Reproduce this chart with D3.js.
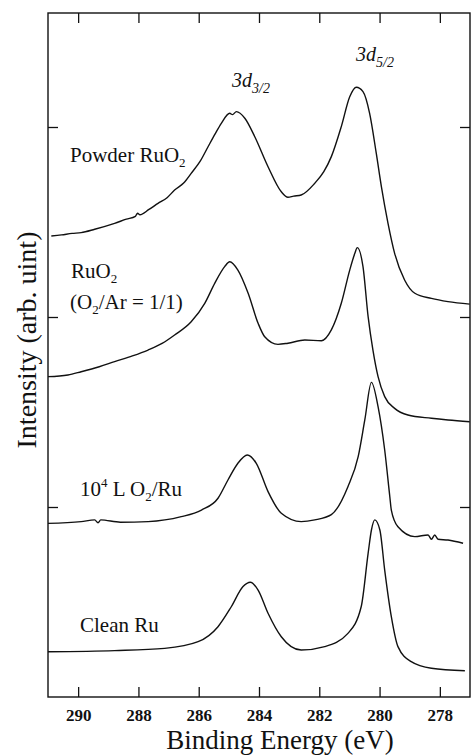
<!DOCTYPE html>
<html lang="en">
<head>
    <meta charset="UTF-8">
    <title>Ru 3d XPS spectra</title>
    <script src="https://d3js.org/d3.v7.min.js"></script>
    <style>
        body { margin: 0; background: #fff; }
        text { font-family: "Liberation Serif", "Times New Roman", serif; fill: #111; }
    </style>
</head>
<body>
    <svg id="chart" width="472" height="755"></svg>
    <script>
        // Spectra: [binding energy (eV), intensity (arb.)]
        var powderRuO2 = [
            [290.89, 2.426], [290.55, 2.432], [290.20, 2.440], [289.90, 2.444], [289.45, 2.462],
            [288.79, 2.493], [288.40, 2.515], [288.10, 2.530], [288.03, 2.546], [287.95, 2.538],
            [287.65, 2.566], [287.35, 2.598], [287.05, 2.628], [286.80, 2.668], [286.50, 2.705],
            [286.25, 2.756], [285.95, 2.820], [285.69, 2.896], [285.45, 2.965], [285.25, 3.019],
            [284.97, 3.072], [284.88, 3.065], [284.75, 3.081], [284.47, 3.046], [284.14, 2.949],
            [283.70, 2.791], [283.26, 2.659], [283.04, 2.630], [282.85, 2.636], [282.60, 2.642],
            [282.15, 2.704], [281.85, 2.765], [281.60, 2.844], [281.27, 3.002], [280.99, 3.159],
            [280.77, 3.209], [280.55, 3.186], [280.33, 3.072], [280.11, 2.862], [279.94, 2.686],
            [279.72, 2.493], [279.50, 2.335], [279.17, 2.195], [278.83, 2.125], [278.28, 2.098],
            [277.73, 2.081], [277.01, 2.068]
        ];
        var ruO2Film = [
            [291.00, 1.686], [290.34, 1.695], [289.90, 1.712], [289.30, 1.738], [288.79, 1.765],
            [288.20, 1.795], [287.68, 1.826], [287.20, 1.862], [286.80, 1.905], [286.25, 1.975],
            [285.80, 2.072], [285.47, 2.177], [285.14, 2.265], [284.97, 2.291], [284.70, 2.247],
            [284.36, 2.125], [284.03, 1.967], [283.81, 1.896], [283.37, 1.856], [283.04, 1.862],
            [282.48, 1.879], [281.93, 1.875], [281.60, 1.932], [281.27, 2.072], [280.99, 2.247],
            [280.82, 2.335], [280.74, 2.365], [280.55, 2.265], [280.38, 2.002], [280.22, 1.826],
            [280.05, 1.686], [279.83, 1.581], [279.50, 1.519], [279.06, 1.484], [278.28, 1.467],
            [277.73, 1.458], [277.01, 1.449]
        ];
        var oxygenDosedRu = [
            [291.00, 0.914], [289.90, 0.923], [289.45, 0.932], [289.34, 0.917], [289.25, 0.932],
            [288.60, 0.920], [287.68, 0.923], [286.58, 0.949], [285.91, 0.984], [285.36, 1.046],
            [285.03, 1.142], [284.70, 1.230], [284.39, 1.274], [284.09, 1.230], [283.70, 1.081],
            [283.26, 0.967], [282.60, 0.923], [282.15, 0.932], [281.60, 0.960], [281.05, 1.107],
            [280.71, 1.265], [280.49, 1.458], [280.27, 1.656], [280.05, 1.528], [279.83, 1.300],
            [279.66, 1.054], [279.61, 0.984], [279.39, 0.896], [278.83, 0.844], [278.39, 0.853],
            [278.28, 0.830], [278.17, 0.853], [278.06, 0.830], [277.73, 0.826], [277.23, 0.809]
        ];
        var cleanRu = [
            [291.00, 0.238], [288.79, 0.244], [287.13, 0.256], [286.02, 0.291], [285.36, 0.370],
            [284.92, 0.475], [284.53, 0.581], [284.29, 0.604], [284.03, 0.563], [283.70, 0.441],
            [283.26, 0.317], [282.60, 0.247], [281.82, 0.265], [281.05, 0.335], [280.61, 0.475],
            [280.38, 0.756], [280.27, 0.879], [280.16, 0.932], [279.99, 0.879], [279.83, 0.668],
            [279.61, 0.423], [279.39, 0.265], [278.95, 0.186], [278.28, 0.151], [277.17, 0.138]
        ];
        var spectra = [powderRuO2, ruO2Film, oxygenDosedRu, cleanRu];

        var xTicks = [290, 288, 286, 284, 282, 280, 278];
        var yTicks = [1, 2, 3];

        var svg = d3.select("#chart");

        // frame of the plot ("top" is taken by window.top, so use plot* names)
        var plotLeft = 48, plotRight = 470, plotTop = 13, plotBottom = 697;

        var x = d3.scaleLinear().domain([291, 277]).range([plotLeft, plotRight]);
        var y = d3.scaleLinear().domain([0, 3.6]).range([plotBottom, plotTop]);

        function styleTicks(g) {
            g.select(".domain").remove();
            g.selectAll("line").attr("stroke", "#111").attr("stroke-width", 1.3);
        }

        // axes, ticks pointing inward on all four sides
        var tickLen = 10;
        svg.append("g")
            .attr("transform", "translate(0," + plotBottom + ")")
            .call(d3.axisBottom(x).tickValues(xTicks).tickSizeInner(-tickLen).tickSizeOuter(0).tickPadding(12).tickFormat(d3.format("d")))
            .call(styleTicks)
            .call(function (g) {
                g.selectAll("text").attr("font-family", "Liberation Serif").attr("font-weight", "bold")
                    .attr("font-size", 17).attr("fill", "#111");
            });
        svg.append("g")
            .attr("transform", "translate(0," + plotTop + ")")
            .call(d3.axisTop(x).tickValues(xTicks).tickSizeInner(-tickLen).tickSizeOuter(0).tickFormat(""))
            .call(styleTicks);
        svg.append("g")
            .attr("transform", "translate(" + plotLeft + ",0)")
            .call(d3.axisLeft(y).tickValues(yTicks).tickSizeInner(-tickLen).tickSizeOuter(0).tickFormat(""))
            .call(styleTicks);
        svg.append("g")
            .attr("transform", "translate(" + plotRight + ",0)")
            .call(d3.axisRight(y).tickValues(yTicks).tickSizeInner(-tickLen).tickSizeOuter(0).tickFormat(""))
            .call(styleTicks);

        svg.append("rect")
            .attr("x", plotLeft).attr("y", plotTop)
            .attr("width", plotRight - plotLeft).attr("height", plotBottom - plotTop)
            .attr("fill", "none").attr("stroke", "#111").attr("stroke-width", 1.4);

        // the spectra
        var line = d3.line()
            .x(function (d) { return x(d[0]); })
            .y(function (d) { return y(d[1]); })
            .curve(d3.curveMonotoneX);

        svg.append("g")
            .selectAll("path")
            .data(spectra)
            .enter()
            .append("path")
            .attr("d", line)
            .attr("fill", "none")
            .attr("stroke", "#111")
            .attr("stroke-width", 1.4)
            .attr("stroke-linejoin", "round");

        // peak labels
        function peakLabel(px, py, sub) {
            var t = svg.append("text").attr("x", px).attr("y", py)
                .attr("font-size", 20).attr("font-style", "italic");
            t.append("tspan").text("3d");
            t.append("tspan").attr("dy", 6).attr("font-size", 14).text(sub);
        }
        peakLabel(232, 87, "3/2");
        peakLabel(356, 61, "5/2");

        // sample labels
        var lab = svg.append("text").attr("x", 70).attr("y", 162).attr("font-size", 21);
        lab.append("tspan").text("Powder RuO");
        lab.append("tspan").attr("dy", 5).attr("font-size", 13).text("2");

        lab = svg.append("text").attr("x", 71).attr("y", 278).attr("font-size", 21);
        lab.append("tspan").text("RuO");
        lab.append("tspan").attr("dy", 5).attr("font-size", 13).text("2");

        lab = svg.append("text").attr("x", 70).attr("y", 309).attr("font-size", 21);
        lab.append("tspan").text("(O");
        lab.append("tspan").attr("dy", 5).attr("font-size", 13).text("2");
        lab.append("tspan").attr("dy", -5).text("/Ar = 1/1)");

        lab = svg.append("text").attr("x", 80).attr("y", 496).attr("font-size", 21);
        lab.append("tspan").text("10");
        lab.append("tspan").attr("dy", -9).attr("font-size", 13).text("4");
        lab.append("tspan").attr("dy", 9).text(" L O");
        lab.append("tspan").attr("dy", 5).attr("font-size", 13).text("2");
        lab.append("tspan").attr("dy", -5).text("/Ru");

        svg.append("text").attr("x", 80).attr("y", 632).attr("font-size", 21).text("Clean Ru");

        // axis titles
        svg.append("text")
            .attr("x", 280).attr("y", 749)
            .attr("text-anchor", "middle").attr("font-size", 27)
            .text("Binding Energy (eV)");
        svg.append("text")
            .attr("transform", "translate(36,340) rotate(-90)")
            .attr("text-anchor", "middle").attr("font-size", 28)
            .text("Intensity (arb. uint)");
    </script>
</body>
</html>
